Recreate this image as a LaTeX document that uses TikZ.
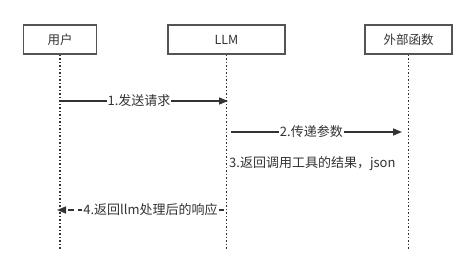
\documentclass[tikz,border=0pt]{standalone}
\usepackage{fontspec}
\setmainfont{Noto Sans CJK SC}
\usetikzlibrary{arrows.meta}
\definecolor{ink}{HTML}{333333}
\definecolor{frame}{HTML}{505559}
\begin{document}
\begin{tikzpicture}[x=1pt,y=-1pt,
  actor/.style={draw=frame, line width=1.5pt, minimum height=29pt, inner sep=0pt,
    font=\fontsize{12.5}{14}\selectfont, text=ink},
  lifeline/.style={draw=ink, line width=1.5pt, dash pattern=on 1.5pt off 2pt},
  msg/.style={draw=ink, line width=1.5pt, -{Triangle[length=9pt,width=7pt]}},
  reply/.style={msg, dash pattern=on 6pt off 4pt},
  msglabel/.style={fill=white, inner sep=1pt, text=ink, font=\fontsize{13}{15}\selectfont}]
  \useasboundingbox (0,0) rectangle (476,276);

  % participants
  \node[actor, minimum width=73pt] (user) at (60,39.5) {用户};
  \node[actor, minimum width=117pt] (llm) at (226.5,39.5) {LLM};
  \node[actor, minimum width=87pt] (func) at (408.5,39.5) {外部函数};

  % lifeline ends
  \coordinate (userEnd) at (60,250);
  \coordinate (llmEnd) at (226.5,250);
  \coordinate (funcEnd) at (408.5,250);
  \draw[lifeline] (user.south) -- (userEnd);
  \draw[lifeline] (llm.south) -- (llmEnd);
  \draw[lifeline] (func.south) -- (funcEnd);

  % message anchor points on the lifelines
  \coordinate (m1a) at (60,101);
  \coordinate (m1b) at (228,101);
  \coordinate (m2a) at (231,132);
  \coordinate (m2b) at (402,132);
  \coordinate (m3) at (228,164);
  \coordinate (m4a) at (224,210);
  \coordinate (m4b) at (57,210);

  \draw[msg] (m1a) -- node[msglabel, pos=0.47] {1.发送请求} (m1b);
  \draw[msg] (m2a) -- node[msglabel, pos=0.47] {2.传递参数} (m2b);
  \node[msglabel, anchor=west] (ret) at (m3) {3.返回调用工具的结果，json};
  \draw[reply] (m4a) -- node[msglabel, pos=0.44] {4.返回llm处理后的响应} (m4b);
\end{tikzpicture}
\end{document}
